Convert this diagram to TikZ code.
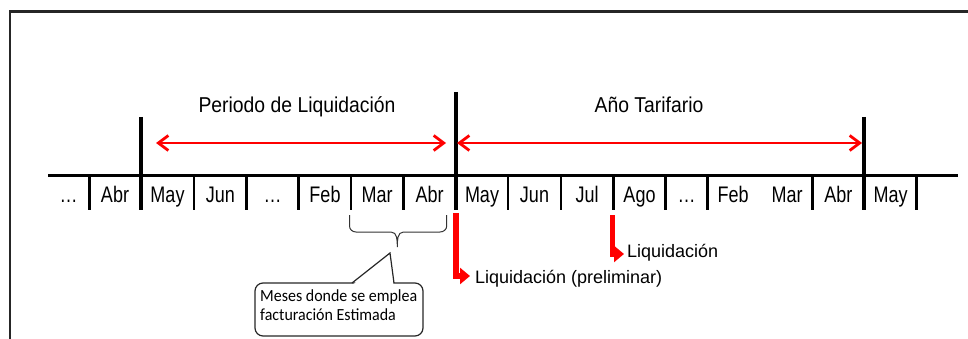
\documentclass[tikz,border=0pt]{standalone}
\usepackage{fontspec}
\setmainfont{Liberation Sans}
\newfontfamily\calfont{Carlito}
\usetikzlibrary{arrows.meta}
\begin{document}
\begin{tikzpicture}[x=1pt,y=-1pt,
  month/.style={font=\fontsize{22.5}{24}\selectfont, xscale=0.8, anchor=base, inner sep=0pt},
  heading/.style={font=\fontsize{21.5}{24}\selectfont, xscale=0.9, anchor=base, inner sep=0pt},
  liq/.style={font=\fontsize{18}{20}\selectfont, anchor=base west, inner sep=0pt},
  notetext/.style={font=\calfont\fontsize{17}{19}\selectfont, xscale=0.94, anchor=base west, inner sep=0pt},
  tickline/.style={line width=2.5pt, black},
  bigtick/.style={line width=4pt, black},
  spanarrow/.style={red, line width=2.8pt, {Straight Barb[length=10pt,width=15pt]}-{Straight Barb[length=10pt,width=15pt]}},
  redarr/.style={red, line width=5.5pt, -{Triangle[length=10pt,width=16pt]}},
  thinline/.style={line width=1pt, black!80},
]
\useasboundingbox (0,0) rectangle (968,339);
% frame
\draw[line width=2.5pt, black!85] (10,345) -- (10,11.5) -- (975,11.5);
% timeline
\draw[line width=3pt] (48,176) -- (958,176);
\foreach \x in {89.3,194,246.7,298.3,351,403.3,508,561,613.3,665.7,707.7,812.3,916.7}
  \draw[tickline] (\x,176) -- (\x,210);
\draw[bigtick] (141,117) -- (141,210);
\draw[bigtick] (456,92) -- (456,210);
\draw[bigtick] (864,117) -- (864,210);
% spans
\coordinate (s1a) at (156,143);
\coordinate (s1b) at (446,143);
\coordinate (s2a) at (457,143);
\coordinate (s2b) at (862,143);
\draw[spanarrow] (s1a) -- (s1b);
\draw[spanarrow] (s2a) -- (s2b);
\node[heading] (per) at (297,113) {Periodo de Liquidación};
\node[heading] (anio) at (649,113) {Año Tarifario};
% months
\node[month] (m1) at (68.5,202) {…};
\node[month] (m2) at (115,202) {Abr};
\node[month] (m3) at (167.5,202) {May};
\node[month] (m4) at (220.3,202) {Jun};
\node[month] (m5) at (272.5,202) {…};
\node[month] (m6) at (325,202) {Feb};
\node[month] (m7) at (377,202) {Mar};
\node[month] (m8) at (429.6,202) {Abr};
\node[month] (m9) at (482,202) {May};
\node[month] (m10) at (534.5,202) {Jun};
\node[month] (m11) at (587,202) {Jul};
\node[month] (m12) at (639.5,202) {Ago};
\node[month] (m13) at (686.7,202) {…};
\node[month] (m14) at (733,202) {Feb};
\node[month] (m15) at (787,202) {Mar};
\node[month] (m16) at (838.3,202) {Abr};
\node[month] (m17) at (890.5,202) {May};
% brace
\draw[thinline] (349.5,215) -- (349.5,226) to[out=-90,in=180] (356,232) -- (391,232)
  to[out=0,in=90] (397.3,247) to[out=90,in=180] (403.5,232) -- (440,232)
  to[out=0,in=-90] (446.7,226) -- (446.7,215);
% callout
\draw[line width=1.2pt, black!85, rounded corners=8pt] (255,283) rectangle (423,336);
\fill[white] (352.5,285) -- (390,253) -- (393.5,285) -- cycle;
\draw[line width=1.2pt, black!85] (352,283) -- (390,253) -- (394,283);
\node[notetext] (note1) at (260,301.7) {Meses donde se emplea};
\node[notetext] (note2) at (260,320.7) {facturación Estimada};
% red arrows
\coordinate (r1s) at (456,213);
\coordinate (r1e) at (470,276);
\draw[redarr] (r1s) |- (r1e);
\node[liq] (lq1) at (475,283) {Liquidación (preliminar)};
\coordinate (r2s) at (612.7,215);
\coordinate (r2e) at (624,254);
\draw[redarr] (r2s) |- (r2e);
\node[liq] (lq2) at (627,257.3) {Liquidación};
\end{tikzpicture}
\end{document}
